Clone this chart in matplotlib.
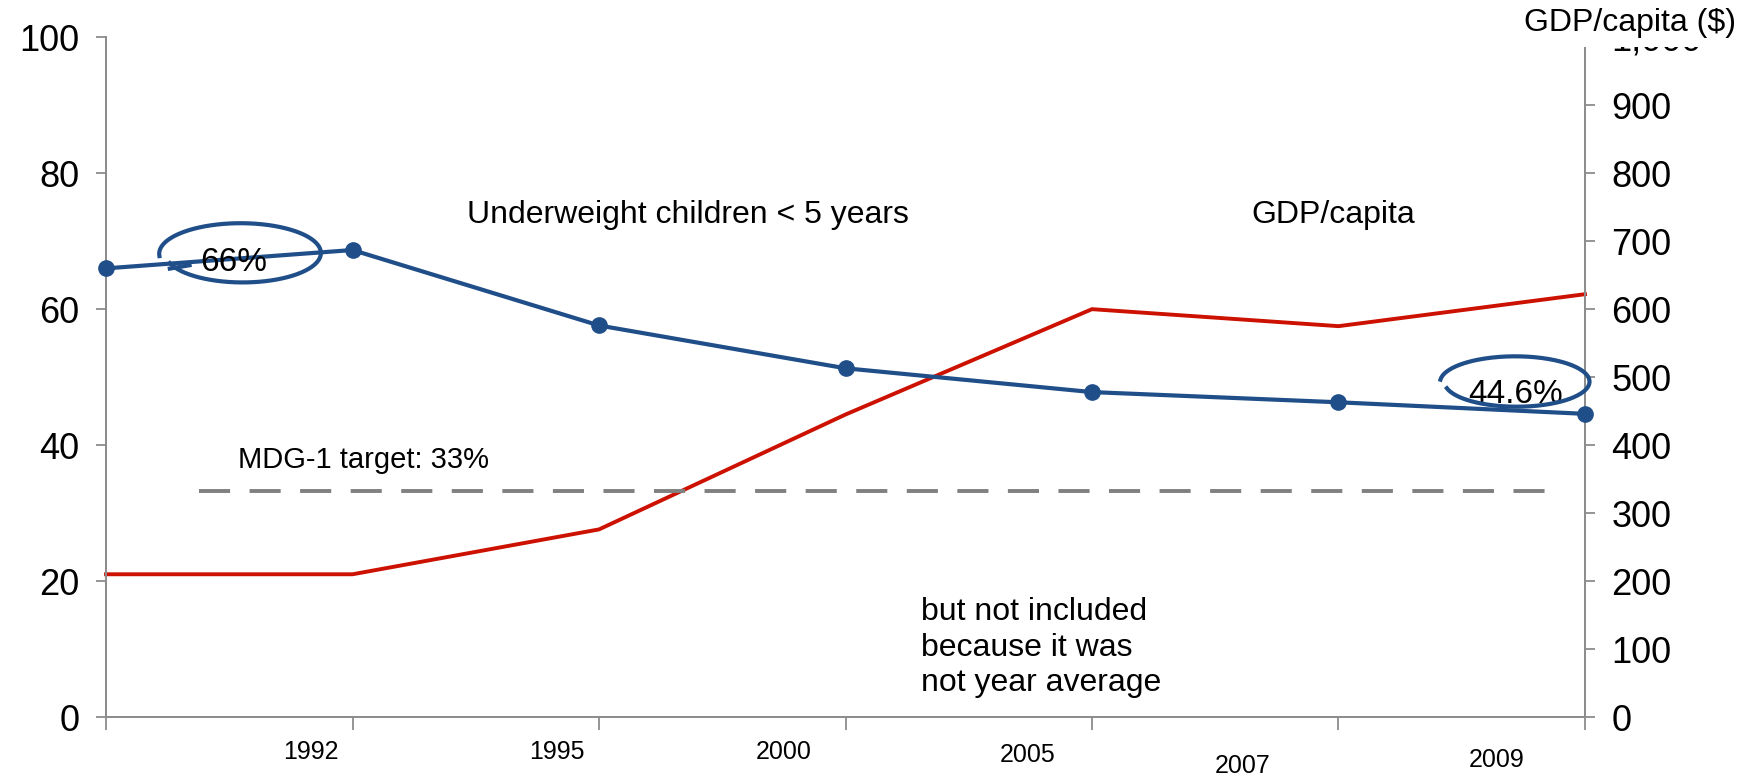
import numpy as np
import matplotlib
matplotlib.use("Agg")
import matplotlib.pyplot as plt

plt.rcParams['font.family'] = ['Liberation Sans', 'DejaVu Sans']

# ---- data ----
positions = [0, 1, 2, 3, 4, 5, 6]
underweight = [66.0, 68.7, 57.6, 51.3, 47.8, 46.3, 44.6]
gdp_capita = [210, 210, 276, 445, 600, 575, 622]
year_labels = ['1992', '1995', '2000', '2005', '2007', '2009']
year_label_x = [0.83, 1.83, 2.75, 3.74, 4.61, 5.64]
year_label_dy = [0, 0, 0, 2.5, 10, 6]
mdg_target = 33.3
left_ticks = [0, 20, 40, 60, 80, 100]
right_ticks = list(range(0, 1001, 100))
right_labels = ['0', '100', '200', '300', '400', '500', '600', '700', '800', '900', '1,000']

BLUE = '#1f4e89'
RED = '#cc1100'
GRAY = '#8c8c8c'

fig = plt.figure(figsize=(17.56, 7.76), dpi=100)
ax = fig.add_axes([0.0604, 0.076, 0.8422, 0.876])
ax2 = ax.twinx()
ax.set_zorder(ax2.get_zorder() + 1)
ax.patch.set_visible(False)

ax.set_xlim(0, 6)
ax.set_ylim(0, 100)
ax2.set_ylim(0, 1000)

# red GDP line
ax2.plot(positions, gdp_capita, color=RED, lw=2.8, clip_on=False)
# blue underweight line
ax.plot(positions, underweight, color=BLUE, lw=3.0, marker='o', ms=11,
        clip_on=False, zorder=5)
# MDG target dashed line
ax.plot([0.377, 5.86], [mdg_target, mdg_target], color='#808080', lw=2.8,
        dashes=(8, 5))

# spines
for a in (ax, ax2):
    a.spines['top'].set_visible(False)
    for s in ('left', 'right', 'bottom'):
        a.spines[s].set_color(GRAY)
        a.spines[s].set_linewidth(1.3)

ax.set_yticks(left_ticks)
ax.tick_params(axis='y', direction='out', length=7, width=1.3, color=GRAY,
               labelsize=26, pad=12)
ax2.set_yticks(right_ticks)
ax2.set_yticklabels(right_labels)
ax2.tick_params(axis='y', direction='out', length=7, width=1.3, color=GRAY,
                labelsize=26, pad=12)
ax.set_xticks(positions)
ax.set_xticklabels([])
ax.tick_params(axis='x', direction='out', length=9, width=1.3, color=GRAY)
ax2.tick_params(axis='x', length=0)

# x labels placed between ticks
for lab, xv, dy in zip(year_labels, year_label_x, year_label_dy):
    ax.annotate(lab, xy=(xv, 0), xycoords='data', xytext=(0, -25 - dy),
                textcoords='offset points', ha='center', va='center',
                fontsize=18)

# annotations
ax.text(2.36, 73.8, 'Underweight children < 5 years', fontsize=23,
        ha='center', va='center')
ax.text(4.98, 73.8, 'GDP/capita', fontsize=23, ha='center', va='center')
ax.text(1.045, 37.8, 'MDG-1 target: 33%', fontsize=21, ha='center', va='center')
ax.text(0.52, 66.8, '66%', fontsize=24, ha='center', va='center', zorder=6)
ax.text(5.72, 47.4, '44.6%', fontsize=24, ha='center', va='center', zorder=6)
ax.text(3.305, 10.2, 'but not included\nbecause it was\nnot year average',
        fontsize=23, ha='left', va='center', linespacing=1.24)

fig.text(0.9285, 0.971, 'GDP/capita ($)', fontsize=23, ha='center', va='center',
         bbox=dict(facecolor='white', edgecolor='none', pad=7), zorder=10)

# hand-drawn loops around the highlighted values
def loop(cx, cy, rx, ry, t0, t1, shrink):
    t = np.linspace(t0, t1, 300)
    k = 1 - shrink * (t - t0) / (t1 - t0)
    return cx + rx * k * np.cos(t), cy + ry * k * np.sin(t)

x1, y1 = loop(0.55, 68.2, 0.31, 4.2, np.radians(200), np.radians(200 + 345), -0.08)
ax.plot(x1, y1, color=BLUE, lw=3.0, zorder=6, clip_on=False)
ax.plot([x1[0], x1[0] + 0.08], [y1[0] - 0.8, y1[0] - 0.3], color=BLUE, lw=3.0, zorder=6)

x2, y2 = loop(5.72, 49.3, 0.29, 3.6, np.radians(195), np.radians(195 + 340), -0.06)
ax.plot(x2, y2, color=BLUE, lw=3.0, zorder=6, clip_on=False)

fig.savefig('out.png', dpi=100)
